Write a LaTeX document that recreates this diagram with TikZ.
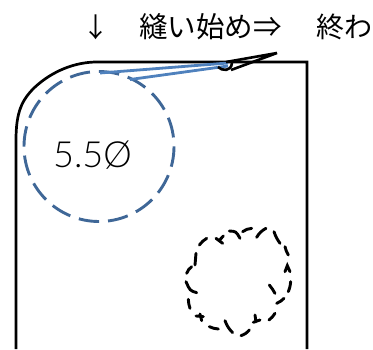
\documentclass[tikz,border=0pt]{standalone}
\usepackage{fontspec}
\setmainfont{Liberation Sans}
\newfontfamily\cjk{Noto Sans CJK JP}
\newfontfamily\thinfont{Lato Light}
\definecolor{dashblue}{HTML}{3F6797}
\definecolor{leadblue}{HTML}{4F81BD}
\tikzset{
 outline/.style={draw=black,line width=2.7pt},
 dia/.style={draw=dashblue,line width=2.9pt,dash pattern=on 20.4pt off 9.05pt},
 lead/.style={draw=leadblue,line width=2.8pt},
 blob/.style={draw=black,line width=2.9pt,line cap=round},
 txt/.style={inner sep=0pt,anchor=center,text=black}
}
\begin{document}
\begin{tikzpicture}[x=1pt,y=-1pt]
\useasboundingbox (0,0) rectangle (373,349);
\draw[outline] (16,349) -- (16,140) .. controls (16,112) and (22,100) .. (34,88) .. controls (52,71) and (75,62) .. (97,62) -- (307,62) -- (307,349);
\draw[dia] (99,146.5) circle [radius=75];
\draw[lead] (100,73) -- (228,63);
\draw[lead] (130,79.5) -- (228,66);
\draw[draw=black,line width=2.6pt] (226,62) -- (277,53) -- (231,70);
\draw[draw=black,line width=2.6pt] (218,67) .. controls (222,71) and (231,72) .. (232,63);
\node[txt,font=\cjk\fontsize{27}{27}\selectfont] (arrow) at (95.5,27) {↓};
\node[txt,font=\cjk\fontsize{28.5}{28.5}\selectfont,anchor=west] (start) at (139,27) {縫い始め⇒};
\node[txt,font=\cjk\fontsize{28}{28}\selectfont,anchor=west] (end) at (316,27) {終わ};
\node[txt,font=\thinfont\fontsize{36}{36}\selectfont] (dia) at (92.5,155) {5.5Ø};
\begin{scope}[shift={(170,210)},x=0.3333pt,y=-0.3333pt]
\draw[blob] (50,190) to[bend left=15] (65,170);
\draw[blob] (75,165) -- (78,130);
\draw[blob] (88,105) to[bend left=10] (110,85);
\draw[blob] (138,85) -- (158,100) (148,91) -- (160,78);
\draw[blob] (178,63) .. controls (198,64) .. (210,85);
\draw[blob] (218,65) to[bend left=15] (245,55);
\draw[blob] (260,82) to[bend left=15] (288,55);
\draw[blob] (312,65) to[bend right=8] (330,100);
\draw[blob] (345,110) to[bend right=8] (355,135);
\draw[blob] (345,185) -- (352,167) -- (360,185);
\draw[blob] (362,215) to[bend left=8] (355,245);
\draw[blob] (342,265) to[bend left=12] (320,280);
\draw[blob] (315,310) to[bend left=10] (297,330);
\draw[blob] (255,315) -- (258,335) (250,337) -- (270,330);
\draw[blob] (238,360) to[bend left=15] (213,377);
\draw[blob] (188,368) to[bend left=12] (165,332);
\draw[blob] (145,357) to[bend left=10] (118,350);
\draw[blob] (78,318) -- (100,320) (90,312) -- (95,332);
\draw[blob] (60,295) to[bend left=8] (55,268);
\draw[blob] (80,248) .. controls (60,242) .. (48,215);
\draw[blob] (298,225) to[bend left=5] (315,250);
\end{scope}
\end{tikzpicture}
\end{document}
